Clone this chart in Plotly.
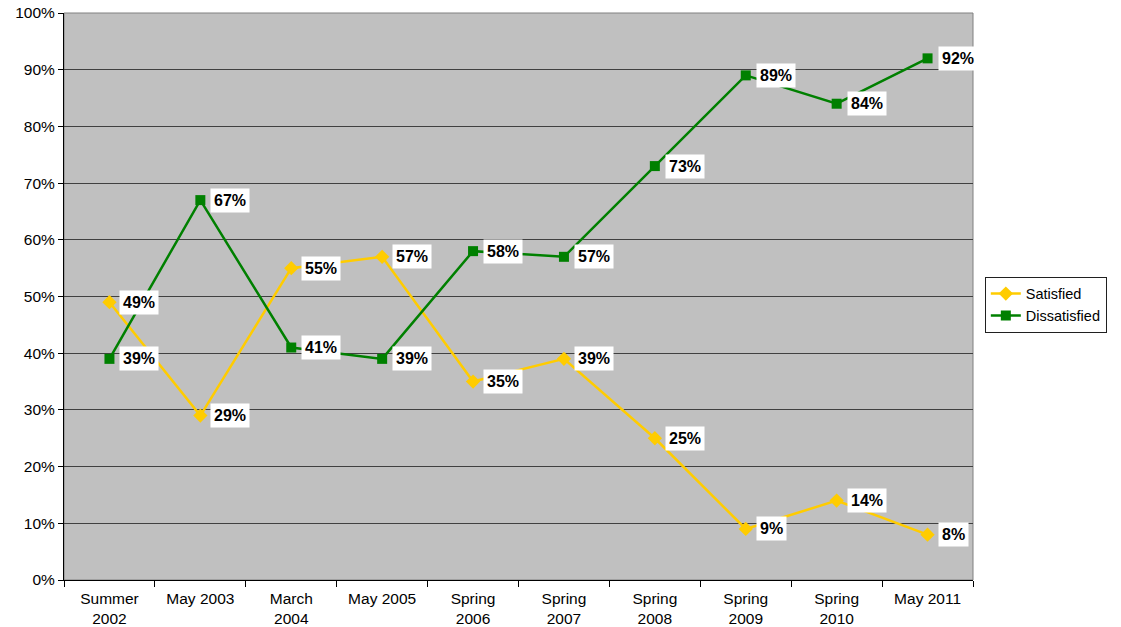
import plotly.graph_objects as go

categories = ["Summer<br>2002", "May 2003", "March<br>2004", "May 2005", "Spring<br>2006",
              "Spring<br>2007", "Spring<br>2008", "Spring<br>2009", "Spring<br>2010", "May 2011"]
satisfied = [49, 29, 55, 57, 35, 39, 25, 9, 14, 8]
dissatisfied = [39, 67, 41, 39, 58, 57, 73, 89, 84, 92]

FONT = "Liberation Sans, Arial, sans-serif"
YELLOW = "#FFCC00"
GREEN = "#008000"

x = list(range(len(categories)))

fig = go.Figure()
fig.add_trace(go.Scatter(
    x=x, y=satisfied, mode="lines+markers", name="Satisfied",
    line=dict(color=YELLOW, width=2.5),
    marker=dict(symbol="diamond", size=11, color=YELLOW),
))
fig.add_trace(go.Scatter(
    x=x, y=dissatisfied, mode="lines+markers", name="Dissatisfied",
    line=dict(color=GREEN, width=2.5),
    marker=dict(symbol="square", size=10, color=GREEN),
))

for series in (satisfied, dissatisfied):
    for xi, v in zip(x, series):
        fig.add_annotation(
            x=xi, y=v, text=f"<b>{v}%</b>", showarrow=False,
            xanchor="left", yanchor="middle", xshift=10,
            bgcolor="white", borderpad=3,
            font=dict(family=FONT, size=16, color="black"),
        )

fig.update_layout(
    width=1121, height=627,
    paper_bgcolor="white", plot_bgcolor="#C0C0C0",
    margin=dict(l=64, r=148, t=13, b=47),
    font=dict(family=FONT, size=15.5, color="black"),
    showlegend=True,
    legend=dict(
        x=1.013, y=0.535, xanchor="left", yanchor="top",
        bgcolor="white", bordercolor="#202020", borderwidth=1,
        font=dict(family=FONT, size=14.5),
        tracegroupgap=0, itemwidth=30,
    ),
    xaxis=dict(
        range=[-0.5, 9.5], tickmode="array", tickvals=x, ticktext=categories,
        showgrid=False, zeroline=False, ticks="", automargin=False,
        ticklabelstandoff=4,
        showline=True, linecolor="black", linewidth=1,
        minor=dict(tickmode="array", tickvals=[i + 0.5 for i in range(-1, 10)],
                   ticks="outside", ticklen=6, tickcolor="black"),
    ),
    yaxis=dict(
        range=[0, 100], dtick=10, ticksuffix="%", automargin=False,
        ticklabeloverflow="allow",
        showgrid=True, gridcolor="#404040", gridwidth=1,
        zeroline=False, ticks="outside", ticklen=5, tickcolor="black",
        showline=True, linecolor="black", linewidth=1,
    ),
    shapes=[dict(type="rect", xref="paper", yref="paper", x0=0, x1=1, y0=0, y1=1,
                 line=dict(color="#808080", width=1), layer="below")],
)

# drop the default 8px page margin so the figure fills the window exactly
fig.write_html("out.html", config={"displayModeBar": False},
               post_script="document.body.style.margin='0';")
